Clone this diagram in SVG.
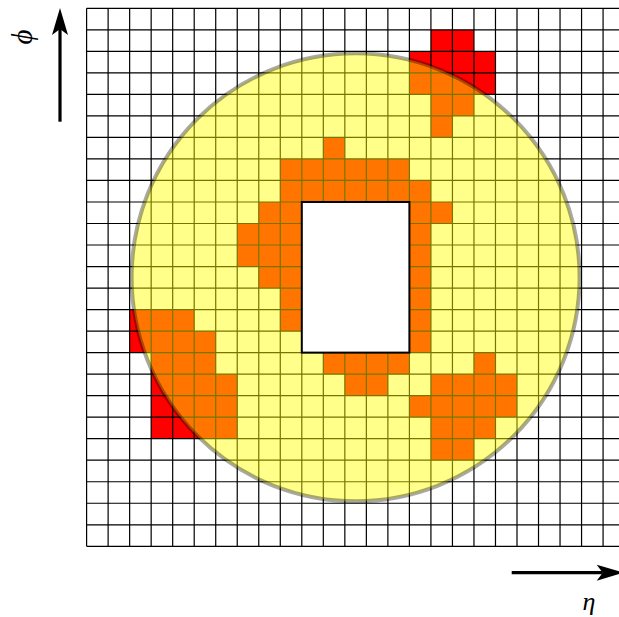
<svg xmlns="http://www.w3.org/2000/svg" width="619" height="617" viewBox="0 0 619 617">
<style>
.grid{stroke:#000;stroke-width:1.2;fill:none}
.axis{stroke:#000;stroke-width:3.2;fill:none}
.lbl{font-family:"Liberation Serif","DejaVu Serif",serif;font-style:italic;fill:#000}
</style>
<defs>
<marker id="ah" markerUnits="userSpaceOnUse" markerWidth="30" markerHeight="20" refX="0" refY="0" orient="auto" overflow="visible">
<path d="M21,0 L-6,-8 L0,0 L-6,8 Z" fill="#000"/>
</marker>
</defs>
<rect width="619" height="617" fill="#fff"/>
<g id="cells" transform="translate(86.6 8.3) scale(21.52)" fill="#f00">
<rect x="16" y="1" width="2" height="1"/>
<rect x="15" y="2" width="4" height="2"/>
<rect x="16" y="4" width="2" height="1"/>
<rect x="16" y="5" width="1" height="1"/>
<rect x="11" y="6" width="1" height="1"/>
<rect x="9" y="7" width="6" height="1"/>
<rect x="9" y="8" width="7" height="1"/>
<rect x="8" y="9" width="2" height="1"/>
<rect x="15" y="9" width="2" height="1"/>
<rect x="7" y="10" width="3" height="2"/>
<rect x="15" y="10" width="1" height="6"/>
<rect x="8" y="12" width="2" height="1"/>
<rect x="9" y="13" width="1" height="2"/>
<rect x="2" y="14" width="3" height="1"/>
<rect x="2" y="15" width="4" height="1"/>
<rect x="3" y="16" width="3" height="1"/>
<rect x="11" y="16" width="4" height="1"/>
<rect x="18" y="16" width="1" height="1"/>
<rect x="3" y="17" width="4" height="3"/>
<rect x="12" y="17" width="2" height="1"/>
<rect x="16" y="17" width="4" height="1"/>
<rect x="15" y="18" width="5" height="1"/>
<rect x="16" y="19" width="3" height="1"/>
<rect x="16" y="20" width="2" height="1"/>
</g>
<g id="grid" class="grid">
<path d="M86.6,8.3V546.3M108.12,8.3V546.3M129.64,8.3V546.3M151.16,8.3V546.3M172.68,8.3V546.3M194.2,8.3V546.3M215.72,8.3V546.3M237.24,8.3V546.3M258.76,8.3V546.3M280.28,8.3V546.3M301.8,8.3V546.3M323.32,8.3V546.3M344.84,8.3V546.3M366.36,8.3V546.3M387.88,8.3V546.3M409.4,8.3V546.3M430.92,8.3V546.3M452.44,8.3V546.3M473.96,8.3V546.3M495.48,8.3V546.3M517,8.3V546.3M538.52,8.3V546.3M560.04,8.3V546.3M581.56,8.3V546.3M603.08,8.3V546.3"/>
<path d="M86.6,8.3H625M86.6,29.82H625M86.6,51.34H625M86.6,72.86H625M86.6,94.38H625M86.6,115.9H625M86.6,137.42H625M86.6,158.94H625M86.6,180.46H625M86.6,201.98H625M86.6,223.5H625M86.6,245.02H625M86.6,266.54H625M86.6,288.06H625M86.6,309.58H625M86.6,331.1H625M86.6,352.62H625M86.6,374.14H625M86.6,395.66H625M86.6,417.18H625M86.6,438.7H625M86.6,460.22H625M86.6,481.74H625M86.6,503.26H625M86.6,524.78H625M86.6,546.3H625"/>
</g>
<g id="disc">
<circle cx="355.6" cy="277.3" r="224" fill="#ff0" fill-opacity="0.46"/>
<circle cx="355.6" cy="277.3" r="224" fill="none" stroke="#000" stroke-opacity="0.34" stroke-width="4"/>
</g>
<g id="hole">
<rect x="301.8" y="201.98" width="107.6" height="150.64" fill="#fff" stroke="#000" stroke-width="2"/>
</g>
<g id="axes">
<line class="axis" x1="60" y1="121.7" x2="60" y2="29" marker-end="url(#ah)"/>
<line class="axis" x1="511.7" y1="572.7" x2="602.7" y2="572.7" marker-end="url(#ah)"/>
</g>
<g id="labels">
<text class="lbl" font-size="29" transform="translate(32 37) rotate(-90)" text-anchor="middle">ϕ</text>
<text class="lbl" font-size="26" x="589" y="610" text-anchor="middle">η</text>
</g>
</svg>
